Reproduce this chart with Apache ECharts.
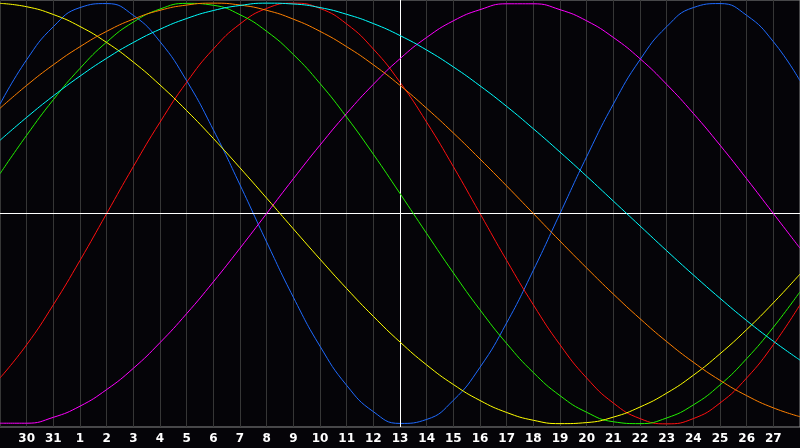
<!DOCTYPE html>
<html>
<head>
<meta charset="utf-8">
<script src="https://cdn.jsdelivr.net/npm/echarts@6/dist/echarts.min.js"></script>
<style>
html,body{margin:0;padding:0;background:#050408;}
#c{width:800px;height:448px;}
</style>
</head>
<body>
<div id="c"></div>
<script>
const days = ['29','30','31','1','2','3','4','5','6','7','8','9','10','11','12','13','14','15','16','17','18','19','20','21','22','23','24','25','26','27','28'];
const todayLabel = '13';

const physical = [52.0,73.1,88.8,97.9,99.8,94.2,81.7,63.1,39.8,13.6,-13.6,-39.8,-63.1,-81.7,-94.2,-99.8,-97.9,-88.8,-73.1,-52.0,-27.0,0.0,27.0,52.0,73.1,88.8,97.9,99.8,94.2,81.7,63.1];
const emotional = [-78.2,-62.4,-43.4,-22.3,0,22.3,43.4,62.4,78.2,90.1,97.5,100,97.5,90.1,78.2,62.4,43.4,22.3,0,-22.3,-43.4,-62.4,-78.2,-90.1,-97.5,-100,-97.5,-90.1,-78.2,-62.4,-43.4];
const intellectual = [18.9,37.2,54.1,69.0,81.5,91.0,97.2,99.9,99.0,94.5,86.6,75.6,61.8,45.8,28.2,9.5,-9.5,-28.2,-45.8,-61.8,-75.6,-86.6,-94.5,-99.0,-99.9,-97.2,-91.0,-81.5,-69.0,-54.1,-37.2];
const intuitive = [-99.7,-99.7,-96.9,-91.6,-83.7,-73.6,-61.4,-47.6,-32.5,-16.5,0,16.5,32.5,47.6,61.4,73.6,83.7,91.6,96.9,99.7,99.7,96.9,91.6,83.7,73.6,61.4,47.6,32.5,16.5,0,-16.5];
const aesthetic = [99.9,98.3,94.6,88.9,81.3,72.0,61.1,48.9,35.7,21.7,7.3,-7.3,-21.7,-35.7,-48.9,-61.1,-72.0,-81.3,-88.9,-94.6,-98.3,-99.9,-99.4,-96.8,-92.0,-85.4,-76.9,-66.7,-55.2,-42.5,-28.8];
const awareness = [50.0,60.9,70.7,79.3,86.6,92.4,96.6,99.1,100,99.1,96.6,92.4,86.6,79.3,70.7,60.9,50.0,38.3,25.9,13.1,0,-13.1,-25.9,-38.3,-50.0,-60.9,-70.7,-79.3,-86.6,-92.4,-96.6];
const spiritual = [34.8,45.7,55.9,65.3,73.8,81.3,87.6,92.7,96.5,98.9,100,99.6,97.9,94.7,90.3,84.6,77.7,69.7,60.7,50.9,40.3,29.2,17.7,5.9,-5.9,-17.7,-29.2,-40.3,-50.9,-60.7,-69.7];

const names = ['Physical','Emotional','Intellectual','Intuitive','Aesthetic','Awareness','Spiritual'];
const colors = ['#1f6bff','#ff1010','#22f000','#ff00ff','#ffff00','#ff8000','#00ffff'];
const datas = [physical, emotional, intellectual, intuitive, aesthetic, awareness, spiritual];

const series = datas.map((d, i) => ({
  name: names[i],
  type: 'line',
  data: d,
  smooth: 0.5,
  symbol: 'none',
  lineStyle: {color: colors[i], width: 1},
  itemStyle: {color: colors[i]},
  z: 3 + i
}));

series.push({
  type: 'line',
  data: [],
  silent: true,
  markLine: {
    silent: true,
    symbol: 'none',
    label: {show: false},
    lineStyle: {color: '#ffffff', width: 1, type: 'solid'},
    data: [{yAxis: 0}, {xAxis: todayLabel}]
  },
  z: 2
});

const lastIdx = days.length - 1;
const chart = echarts.init(document.getElementById('c'));
chart.setOption({
  backgroundColor: '#050408',
  animation: false,
  grid: {left: 0, right: 0, top: 0, bottom: 21, containLabel: false, outerBoundsMode: 'none', show: true, borderColor: '#8a8a8a', borderWidth: 1, backgroundColor: 'transparent'},
  xAxis: {
    type: 'category',
    data: days,
    boundaryGap: false,
    axisLine: {show: true, lineStyle: {color: '#8a8a8a', width: 1}},
    axisTick: {show: false},
    splitLine: {show: true, interval: 0, lineStyle: {color: '#363636', width: 1}},
    axisLabel: {
      interval: function (idx) { return idx > 0 && idx < lastIdx; },
      hideOverlap: false,
      color: '#ffffff',
      fontFamily: 'DejaVu Sans',
      fontWeight: 'bold',
      fontSize: 12,
      margin: 6
    }
  },
  yAxis: {
    type: 'value',
    min: -101.5,
    max: 101.5,
    axisLine: {show: false},
    axisTick: {show: false},
    axisLabel: {show: false},
    splitLine: {show: false}
  },
  series: series
});
</script>
</body>
</html>
